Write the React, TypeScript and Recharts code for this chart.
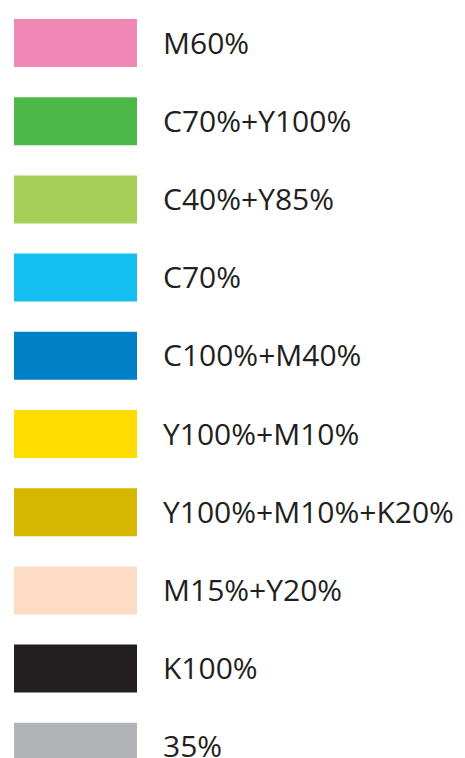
import { Bar, BarChart, Cell, LabelList, XAxis, YAxis } from "recharts";

const swatchLabels = [
    "M60%",
    "C70%+Y100%",
    "C40%+Y85%",
    "C70%",
    "C100%+M40%",
    "Y100%+M10%",
    "Y100%+M10%+K20%",
    "M15%+Y20%",
    "K100%",
    "35%",
];

const swatchColors = [
    "#f088b6",
    "#4cb848",
    "#a6cf58",
    "#13c0f1",
    "#0080c6",
    "#ffdd00",
    "#d5b600",
    "#fcdcc5",
    "#231f20",
    "#b1b3b6",
];

const swatchValues = [1, 1, 1, 1, 1, 1, 1, 1, 1, 1];

const data = swatchLabels.map((label, i) => ({
    label,
    value: swatchValues[i],
}));

export default function App() {
    return (
        <div
            style={{
                position: "absolute",
                top: 0,
                left: 0,
                width: 465,
                height: 758,
                overflow: "hidden",
                background: "#fff",
            }}
        >
            <BarChart
                width={465}
                height={786}
                data={data}
                layout="vertical"
                margin={{ top: 4, right: 328, left: 14, bottom: 0 }}
            >
                <XAxis type="number" domain={[0, 1]} hide />
                <YAxis type="category" dataKey="label" hide />
                <Bar dataKey="value" barSize={48} isAnimationActive={false}>
                    {data.map((d, i) => (
                        <Cell key={d.label} fill={swatchColors[i]} />
                    ))}
                    <LabelList
                        dataKey="label"
                        position="right"
                        offset={26}
                        fill="#231f20"
                        fontSize={30}
                        fontFamily="Open Sans"
                    />
                </Bar>
            </BarChart>
        </div>
    );
}
